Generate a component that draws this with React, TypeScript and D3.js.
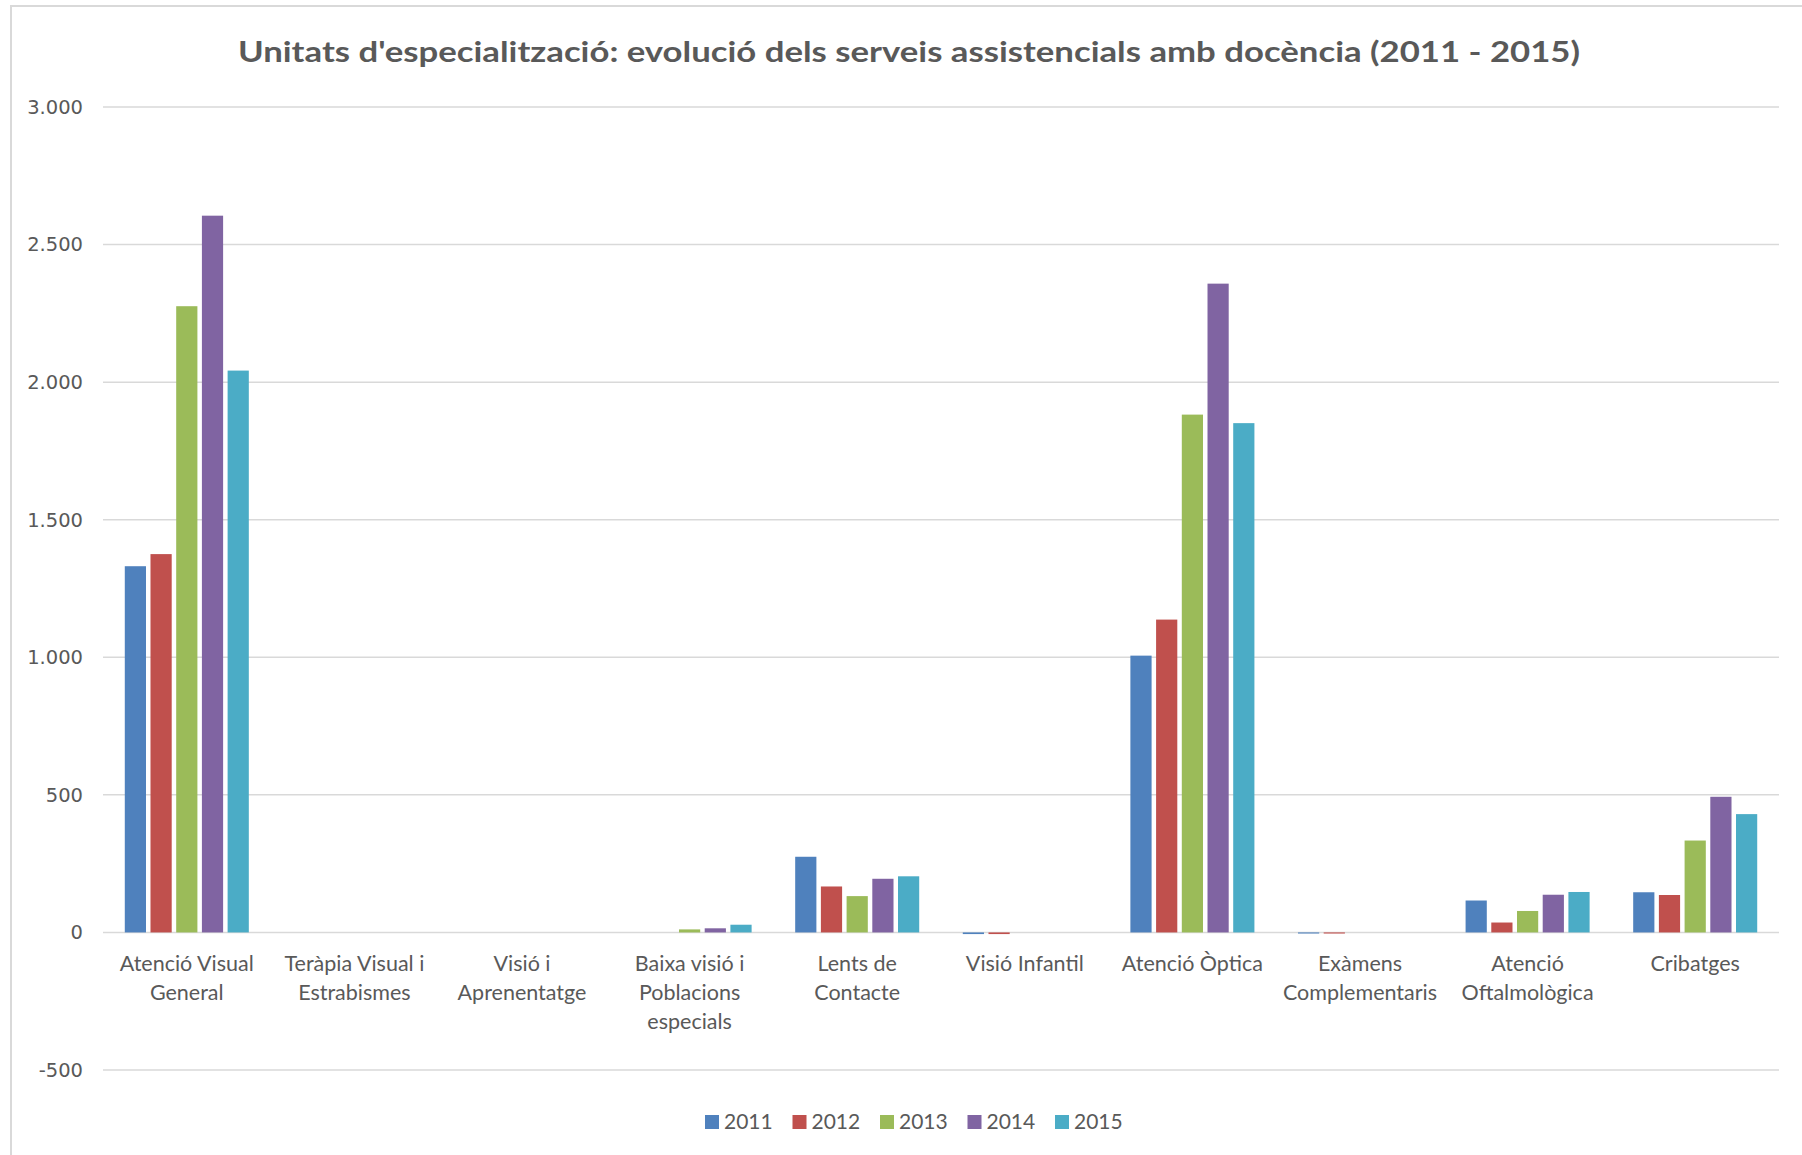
import React from "react";
import * as d3 from "d3";

const categories = [
  "Atenció Visual General",
  "Teràpia Visual i Estrabismes",
  "Visió i Aprenentatge",
  "Baixa visió i Poblacions especials",
  "Lents de Contacte",
  "Visió Infantil",
  "Atenció Òptica",
  "Exàmens Complementaris",
  "Atenció Oftalmològica",
  "Cribatges",
];
const categoryLines = [
  ["Atenció Visual", "General"],
  ["Teràpia Visual i", "Estrabismes"],
  ["Visió i", "Aprenentatge"],
  ["Baixa visió i", "Poblacions", "especials"],
  ["Lents de", "Contacte"],
  ["Visió Infantil"],
  ["Atenció Òptica"],
  ["Exàmens", "Complementaris"],
  ["Atenció", "Oftalmològica"],
  ["Cribatges"],
];
const years = ["2011", "2012", "2013", "2014", "2015"];
const values2011 = [1331, 0, 0, 0, 275, -6, 1006, -4, 116, 146];
const values2012 = [1375, 0, 0, 0, 167, -6, 1137, -4, 36, 136];
const values2013 = [2276, 0, 0, 11, 132, 0, 1882, 0, 78, 334];
const values2014 = [2605, 0, 0, 15, 195, 0, 2358, 0, 137, 493];
const values2015 = [2042, 0, 0, 28, 204, 0, 1851, 0, 147, 430];
const seriesValues = [values2011, values2012, values2013, values2014, values2015];
const colors = ["#4F81BD", "#C0504D", "#9BBB59", "#8064A2", "#4BACC6"];
const yTicks = [-500, 0, 500, 1000, 1500, 2000, 2500, 3000];
const title = "Unitats d'especialització: evolució dels serveis assistencials amb docència (2011 - 2015)";

const fmt = (v: number) => {
  const s = d3.format(",")(v);
  return s.replace(/,/g, ".").replace("−", "-");
};

export default function App() {
  const W = 1802, H = 1155;
  const left = 103, right = 1779;
  const x = d3.scaleBand<string>().domain(categories).range([left, right]).padding(0);
  const inner = d3.scaleBand<string>().domain(years).range([0, x.bandwidth()]).paddingInner(0).paddingOuter(0.76);
  const y = d3.scaleLinear().domain([-500, 3000]).range([1070, 107]);
  const barW = inner.bandwidth() - 4.5;
  const labelFont = "Lato, 'Open Sans', sans-serif";
  const legendX = d3.scaleBand<string>().domain(years).range([705, 705 + 87.5 * 5]);

  return (
    <svg width={W} height={H} style={{ position: "absolute", left: 0, top: 0, background: "#fff" }}>
      <rect x={11} y={6} width={W} height={H} fill="#fff" stroke="#d9d9d9" strokeWidth={2} />
      <text
        x={909}
        y={62}
        textAnchor="middle"
        fontFamily={labelFont}
        fontWeight="bold"
        fontSize={29}
        fill="#595959"
        textLength={1342}
        lengthAdjust="spacingAndGlyphs"
      >
        {title}
      </text>
      {yTicks.map((t) => (
        <g key={t}>
          <line x1={left} x2={right} y1={y(t)} y2={y(t)} stroke="#d9d9d9" strokeWidth={1.5} />
          <text
            x={83}
            y={y(t)}
            dy="0.35em"
            textAnchor="end"
            fontFamily="'DejaVu Sans', sans-serif"
            fontSize={19.5}
            fill="#595959"
          >
            {fmt(t)}
          </text>
        </g>
      ))}
      {seriesValues.map((vals, si) =>
        vals.map((v, ci) => {
          const cx = (x(categories[ci]) as number) + (inner(years[si]) as number) + inner.bandwidth() / 2;
          const y0 = y(0), y1 = y(v);
          return (
            <rect
              key={si + "-" + ci}
              x={cx - barW / 2}
              y={Math.min(y0, y1)}
              width={barW}
              height={Math.abs(y1 - y0)}
              fill={colors[si]}
            />
          );
        })
      )}
      {categoryLines.map((lines, ci) => (
        <text
          key={ci}
          x={(x(categories[ci]) as number) + x.bandwidth() / 2}
          textAnchor="middle"
          fontFamily={labelFont}
          fontSize={21.5}
          fill="#595959"
        >
          {lines.map((l, li) => (
            <tspan key={li} x={(x(categories[ci]) as number) + x.bandwidth() / 2} y={971 + li * 28.8}>
              {l}
            </tspan>
          ))}
        </text>
      ))}
      {years.map((yr, i) => (
        <g key={yr} transform={`translate(${legendX(yr)},0)`}>
          <rect x={0} y={1115} width={14} height={14} fill={colors[i]} />
          <text x={19} y={1129} fontFamily={labelFont} fontSize={21} fill="#595959">
            {yr}
          </text>
        </g>
      ))}
    </svg>
  );
}
